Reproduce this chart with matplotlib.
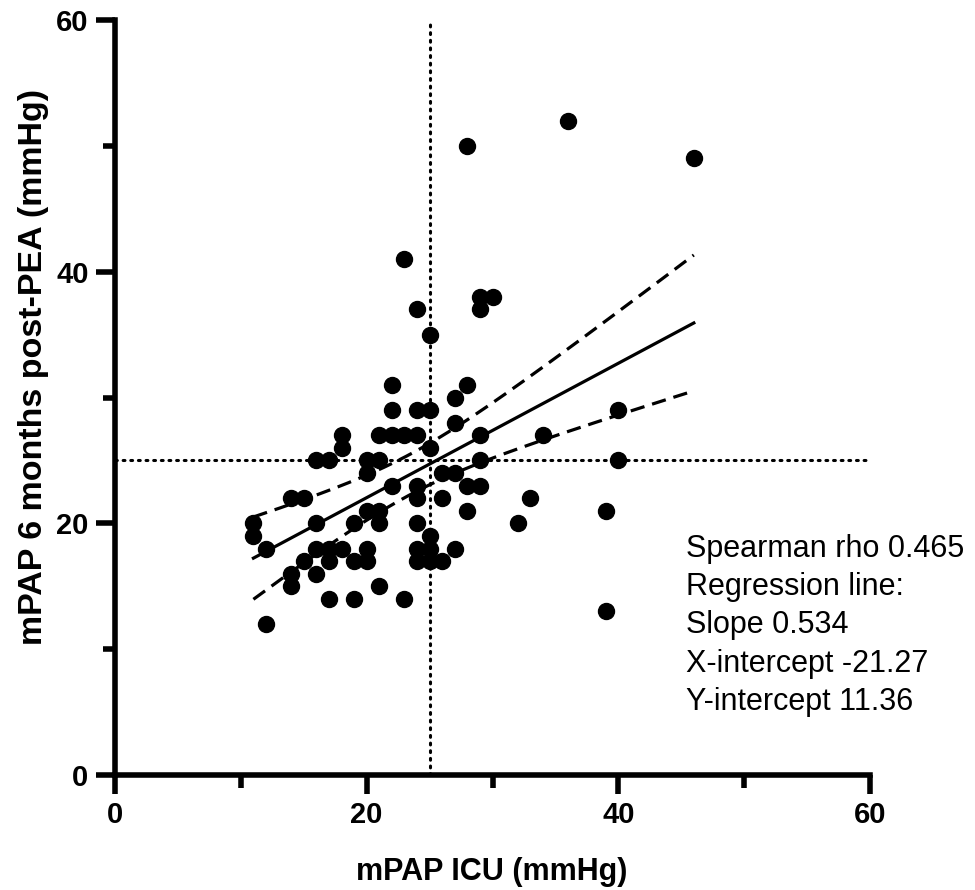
import numpy as np
import matplotlib
matplotlib.use("Agg")
import matplotlib.pyplot as plt
from matplotlib.ticker import MultipleLocator

# Data
icu = [22, 22, 24, 25, 28, 27, 27, 18, 18, 21, 22, 23, 24, 25, 29, 16, 17, 20, 21, 20,
       29, 26, 27, 22, 24, 24, 26, 28, 29, 28, 14, 15, 11, 11, 12, 16, 20, 21, 21, 19,
       24, 25, 24, 25, 27, 24, 25, 26, 16, 17, 18, 20, 15, 17, 19, 20, 16, 14, 14, 21,
       17, 19, 23, 12, 23, 28, 36, 46, 24, 25, 29, 30, 29, 34, 40, 40, 33, 32, 39, 39]
post = [31, 29, 29, 29, 31, 30, 28, 27, 26, 27, 27, 27, 27, 26, 27, 25, 25, 25, 25, 24,
        25, 24, 24, 23, 23, 22, 22, 23, 23, 21, 22, 22, 20, 19, 18, 20, 21, 21, 20, 20,
        20, 19, 18, 18, 18, 17, 17, 17, 18, 18, 18, 18, 17, 17, 17, 17, 16, 16, 15, 15,
        14, 14, 14, 12, 41, 50, 52, 49, 37, 35, 38, 38, 37, 27, 29, 25, 22, 20, 21, 13]

tick_values = [0, 20, 40, 60]
tick_labels = ["0", "20", "40", "60"]

slope = 0.534
y_intercept = 11.36
t_crit = 1.991
ref_value = 25

annot = ["Spearman rho 0.465", "Regression line:", "Slope 0.534",
         "X-intercept -21.27", "Y-intercept 11.36"]

font = "Liberation Sans"
plt.rcParams["font.family"] = [font, "DejaVu Sans"]

x = np.array(icu, float)
y = np.array(post, float)
n = len(x)

fig = plt.figure(figsize=(9.75, 8.9), dpi=100)
ax = fig.add_axes([115/975, 115/890, 755/975, 755/890])

# reference lines
ax.axvline(ref_value, color="black", lw=2.2, ls=(0, (0.6, 1.9)), dash_capstyle="round", zorder=1)
ax.axhline(ref_value, color="black", lw=2.2, ls=(0, (0.6, 1.9)), dash_capstyle="round", zorder=1)

# regression line and confidence band
xs = np.linspace(x.min(), x.max(), 200)
ys = slope * xs + y_intercept
resid = y - (slope * x + y_intercept)
s = np.sqrt(np.sum(resid**2) / (n - 2))
sxx = np.sum((x - x.mean())**2)
half = t_crit * s * np.sqrt(1/n + (xs - x.mean())**2 / sxx)
ax.plot(xs, ys, color="black", lw=2.3, zorder=2)
ax.plot(xs, ys + half, color="black", lw=2.3, ls=(0, (4.5, 2.5)), zorder=2)
ax.plot(xs, ys - half, color="black", lw=2.3, ls=(0, (4.5, 2.5)), zorder=2)

ax.plot(x, y, "o", color="black", ms=11.5, zorder=3, clip_on=False)

ax.set_xlim(0, 60)
ax.set_ylim(0, 60)
ax.set_xticks(tick_values, labels=tick_labels, fontsize=21, fontweight="bold")
ax.set_yticks(tick_values, labels=tick_labels, fontsize=21, fontweight="bold")
ax.xaxis.set_minor_locator(MultipleLocator(10))
ax.yaxis.set_minor_locator(MultipleLocator(10))
for sp in ["top", "right"]:
    ax.spines[sp].set_visible(False)
for sp in ["left", "bottom"]:
    ax.spines[sp].set_linewidth(4)
    ax.spines[sp].set_capstyle("projecting")
ax.tick_params(which="major", length=14, width=4, direction="out", pad=5)
ax.tick_params(which="minor", length=9, width=4, direction="out")

fig.text(492/975, 1 - 880/890, "mPAP ICU (mmHg)", fontsize=22, fontweight="bold",
         ha="center", va="baseline")
fig.text(34/975, 1 - 367/890, "mPAP 6 months post-PEA (mmHg)", fontsize=24.5,
         fontweight="bold", ha="center", va="center", rotation=90)

baselines = [557, 595, 633, 672, 710]
for t, py in zip(annot, baselines):
    fig.text(686/975, 1 - py/890, t, fontsize=22, va="baseline", ha="left")

fig.savefig("out.png", dpi=100)
